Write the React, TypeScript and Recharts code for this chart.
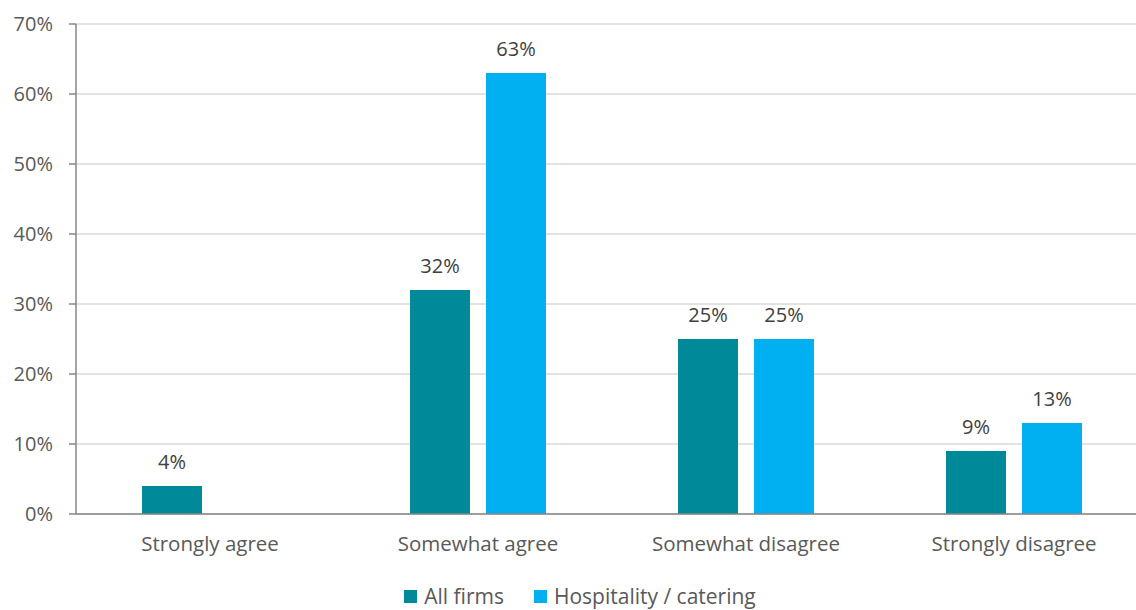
import { BarChart, Bar, XAxis, YAxis, CartesianGrid, LabelList, Legend } from 'recharts'

const categories = ['Strongly agree', 'Somewhat agree', 'Somewhat disagree', 'Strongly disagree']
const allFirms = [4, 32, 25, 9]
const hospitality: (number | null)[] = [null, 63, 25, 13]
const yTicks = [0, 10, 20, 30, 40, 50, 60, 70]
const boundaryTicks = [0, 1, 2, 3, 4]

const data = categories.map((name, i) => ({
  name,
  all: allFirms[i],
  hosp: hospitality[i],
}))

const FONT = '"Open Sans", sans-serif'
const TEXT = '#595959'
const AXIS = '#868686'

const pct = (v: unknown) => (v == null ? '' : `${v}%`)

type LegendItem = { value?: string; color?: string }

const LegendRow = ({ payload }: { payload?: LegendItem[] }) => (
  <div style={{ display: 'flex', justifyContent: 'center', gap: 30, paddingTop: 18, paddingLeft: 12 }}>
    {(payload ?? []).map((p) => (
      <div key={p.value} style={{ display: 'flex', alignItems: 'center', gap: 7 }}>
        <span style={{ width: 13, height: 13, background: p.color, display: 'inline-block' }} />
        <span style={{ color: TEXT, fontSize: 21, lineHeight: '24px' }}>{p.value}</span>
      </div>
    ))}
  </div>
)

export default function App() {
  return (
    <div style={{ position: 'fixed', left: 0, top: 0, width: 1136, height: 610, overflow: 'hidden', background: '#fff' }}>
      <BarChart
        width={1150}
        height={610}
        data={data}
        margin={{ top: 24, right: 2, left: 0, bottom: 0 }}
        barSize={60}
        barGap={16}
        style={{ fontFamily: FONT }}
      >
        <CartesianGrid vertical={false} stroke="#d9d9d9" strokeWidth={1.5} />
        <XAxis
          dataKey="name"
          xAxisId="cat"
          tickLine={false}
          axisLine={{ stroke: AXIS, strokeWidth: 1.5 }}
          tick={{ fill: TEXT, fontSize: 20.5 }}
          tickMargin={16}
          height={52}
        />
        {/* tick marks between categories */}
        <XAxis
          xAxisId="edges"
          type="number"
          domain={[0, 4]}
          ticks={boundaryTicks}
          axisLine={false}
          tick={false}
          tickLine={{ stroke: AXIS, strokeWidth: 1.5 }}
          tickSize={7}
          height={0}
        />
        <YAxis
          width={76}
          domain={[0, 70]}
          ticks={yTicks}
          tickFormatter={pct}
          axisLine={{ stroke: AXIS, strokeWidth: 1.5 }}
          tickLine={{ stroke: AXIS, strokeWidth: 1.5 }}
          tickSize={7}
          tickMargin={16}
          tick={{ fill: TEXT, fontSize: 20 }}
        />
        <Legend verticalAlign="bottom" height={44} content={<LegendRow />} />
        <Bar dataKey="all" name="All firms" xAxisId="cat" fill="#008a99" isAnimationActive={false}>
          <LabelList dataKey="all" position="top" offset={17} formatter={pct} fill="#404040" fontSize={20} />
        </Bar>
        <Bar dataKey="hosp" name="Hospitality / catering" xAxisId="cat" fill="#00b0f0" isAnimationActive={false}>
          <LabelList dataKey="hosp" position="top" offset={17} formatter={pct} fill="#404040" fontSize={20} />
        </Bar>
      </BarChart>
    </div>
  )
}
